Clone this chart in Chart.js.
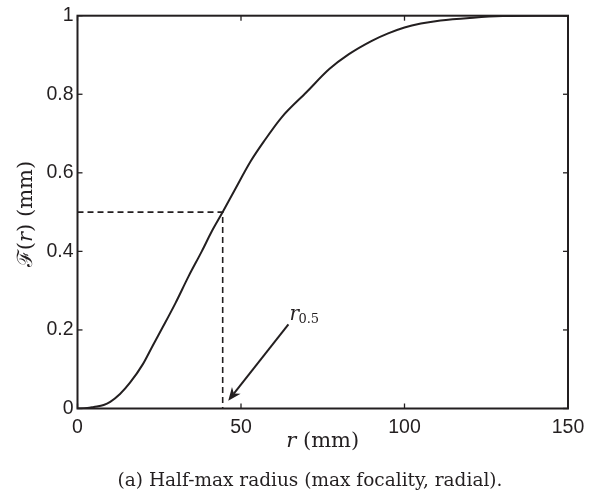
<!DOCTYPE html>
<html>
<head>
<meta charset="utf-8">
<script src="https://cdn.jsdelivr.net/npm/chart.js@4.4.0/dist/chart.umd.min.js"></script>
<style>
  html, body { margin: 0; padding: 0; background: #fff; }
  #wrap { width: 599px; height: 502px; position: relative; }
</style>
</head>
<body>
<div id="wrap"><canvas id="chart"></canvas></div>
<script>
// radius (mm) and half-max focality
var radius = [0, 3, 5, 8, 10, 13, 16, 20, 23, 26, 30, 34, 38, 41, 44.4, 48, 53, 57, 62.5, 70, 77, 83, 90, 95, 100, 105, 111, 121, 130, 140, 150];
var focality = [0, 0.001, 0.004, 0.009, 0.017, 0.037, 0.065, 0.113, 0.16, 0.206, 0.269, 0.337, 0.40, 0.45, 0.50, 0.555, 0.63, 0.68, 0.742, 0.805, 0.864, 0.902, 0.936, 0.955, 0.970, 0.980, 0.988, 0.995, 0.999, 1.0, 1.0];

// half-max marker
var halfR = 44.4;
var halfF = 0.5;

// arrow annotation (tail -> tip) in data units
var arrowTail = [64.5, 0.214];
var arrowTip = [46.1, 0.02];

var xTicks = [0, 50, 100, 150];
var yTicks = [0, 0.2, 0.4, 0.6, 0.8, 1];

var ink = '#231f20';
var serif = '"DejaVu Serif"';

var curvePoints = radius.map(function (r, i) { return {x: r, y: focality[i]}; });
var guidePoints = [{x: 0, y: halfF}, {x: halfR, y: halfF}, {x: halfR, y: 0}];

function line(ctx, x1, y1, x2, y2) {
    ctx.beginPath();
    ctx.moveTo(x1, y1);
    ctx.lineTo(x2, y2);
    ctx.stroke();
}

// draws a run of [text, font] pieces centred on (cx, cy)
function drawPieces(ctx, pieces, cx, cy) {
    var total = 0;
    pieces.forEach(function (p) { ctx.font = p[1]; total += ctx.measureText(p[0]).width; });
    var sx = cx - total / 2;
    ctx.textAlign = 'left';
    pieces.forEach(function (p) {
        ctx.font = p[1];
        ctx.fillText(p[0], sx, cy);
        sx += ctx.measureText(p[0]).width;
    });
}

var decorations = {
    id: 'decorations',
    afterDatasetsDraw: function (chart) {
        var ctx = chart.ctx;
        var a = chart.chartArea;
        var x = chart.scales.x;
        var y = chart.scales.y;
        ctx.save();
        ctx.strokeStyle = ink;
        ctx.fillStyle = ink;

        // inward ticks on all four sides
        ctx.lineWidth = 1.3;
        xTicks.forEach(function (v) {
            var px = x.getPixelForValue(v);
            line(ctx, px, a.bottom, px, a.bottom - 5);
            line(ctx, px, a.top, px, a.top + 5);
        });
        yTicks.forEach(function (v) {
            var py = y.getPixelForValue(v);
            line(ctx, a.left, py, a.left + 5, py);
            line(ctx, a.right, py, a.right - 5, py);
        });

        // box
        ctx.lineWidth = 2;
        ctx.strokeRect(a.left, a.top, a.right - a.left, a.bottom - a.top);

        // arrow
        var x1 = x.getPixelForValue(arrowTail[0]), y1 = y.getPixelForValue(arrowTail[1]);
        var x2 = x.getPixelForValue(arrowTip[0]), y2 = y.getPixelForValue(arrowTip[1]);
        var ang = Math.atan2(y2 - y1, x2 - x1);
        var len = 13, half = 5.5;
        var bx = x2 - len * Math.cos(ang), by = y2 - len * Math.sin(ang);
        ctx.lineWidth = 2;
        line(ctx, x1, y1, bx + 4 * Math.cos(ang), by + 4 * Math.sin(ang));
        ctx.beginPath();
        ctx.moveTo(x2, y2);
        ctx.lineTo(bx + half * Math.sin(ang), by - half * Math.cos(ang));
        ctx.lineTo(x2 - len * 0.7 * Math.cos(ang), y2 - len * 0.7 * Math.sin(ang));
        ctx.lineTo(bx - half * Math.sin(ang), by + half * Math.cos(ang));
        ctx.closePath();
        ctx.fill();

        // r_0.5 label
        ctx.textBaseline = 'alphabetic';
        ctx.textAlign = 'left';
        ctx.font = 'italic 20px ' + serif;
        ctx.fillText('r', x1 + 1, y1 - 4);
        ctx.font = '13px ' + serif;
        ctx.fillText('0.5', x1 + 10, y1 - 1);

        // x label
        var cx = (a.left + a.right) / 2;
        drawPieces(ctx, [['r', 'italic 21px ' + serif], [' (mm)', '21px ' + serif]], cx, 447);

        // y label (rotated)
        ctx.save();
        ctx.translate(32, 214);
        ctx.rotate(-Math.PI / 2);
        drawPieces(ctx, [['\u2131(', '21px ' + serif], ['r', 'italic 21px ' + serif], [') (mm)', '21px ' + serif]], 0, 0);
        ctx.restore();

        // caption
        drawPieces(ctx, [['(a) Half-max radius (max focality, radial).', '18.5px ' + serif]], 310, 486);

        ctx.restore();
    }
};

var chart = new Chart(document.getElementById('chart'), {
    type: 'scatter',
    data: {
        datasets: [
            {
                data: curvePoints,
                showLine: true,
                borderColor: ink,
                borderWidth: 2,
                pointRadius: 0,
                cubicInterpolationMode: 'monotone'
            },
            {
                data: guidePoints,
                showLine: true,
                borderColor: ink,
                borderWidth: 1.6,
                borderDash: [6, 4],
                pointRadius: 0,
                tension: 0
            }
        ]
    },
    options: {
        responsive: true,
        maintainAspectRatio: false,
        animation: false,
        events: [],
        layout: {
            padding: {left: 0, right: 31, top: 13, bottom: 0}
        },
        scales: {
            x: {
                type: 'linear',
                min: 0,
                max: 150,
                afterFit: function (scale) { scale.height = 93.5; },
                afterBuildTicks: function (scale) {
                    scale.ticks = xTicks.map(function (v) { return {value: v}; });
                },
                grid: {display: false, drawTicks: false},
                border: {display: false},
                ticks: {
                    padding: 7,
                    color: ink,
                    font: {family: '"Liberation Sans", Arial', size: 19.5}
                }
            },
            y: {
                type: 'linear',
                min: 0,
                max: 1,
                afterFit: function (scale) { scale.width = 77.5; },
                afterBuildTicks: function (scale) {
                    scale.ticks = yTicks.map(function (v) { return {value: v}; });
                },
                grid: {display: false, drawTicks: false},
                border: {display: false},
                ticks: {
                    padding: 4,
                    color: ink,
                    font: {family: '"Liberation Sans", Arial', size: 19.5},
                    callback: function (v) { return String(Number(v.toFixed(1))); }
                }
            }
        },
        plugins: {
            legend: {display: false},
            tooltip: {enabled: false}
        }
    },
    plugins: [decorations]
});
</script>
</body>
</html>
